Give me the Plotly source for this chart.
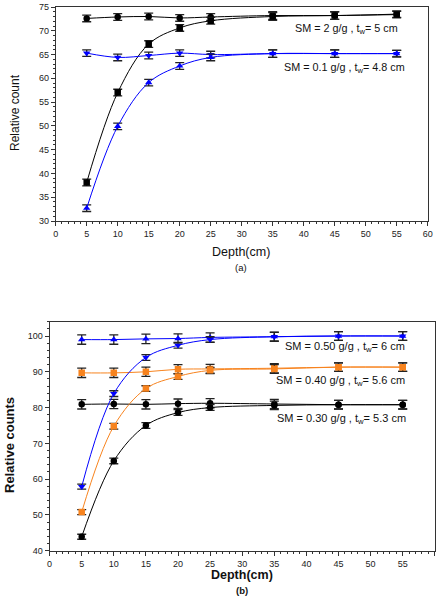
import plotly.graph_objects as go

W, H = 437, 608
depth = [5, 10, 15, 20, 25, 35, 45, 55]

# Panel (a)
a_sm2_flat = [72.6, 72.9, 73.0, 72.7, 72.9, 73.2, 73.2, 73.5]
a_sm2_rise = [38.1, 57.0, 67.2, 70.6, 72.1, 73.0, 73.2, 73.4]
a_sm01_flat = [65.3, 64.4, 64.8, 65.3, 65.0, 65.2, 65.2, 65.2]
a_sm01_rise = [32.7, 49.9, 59.1, 62.6, 64.4, 65.2, 65.2, 65.2]
a_err = [0.7, 0.7, 0.7, 0.7, 0.7, 0.8, 0.8, 0.7]

# Panel (b)
b_sm50_flat = [99.0, 99.0, 99.2, 99.3, 99.6, 99.8, 100.0, 100.0]
b_sm50_rise = [57.9, 83.9, 94.0, 97.4, 99.0, 99.8, 100.0, 100.0]
b_sm40_flat = [89.7, 89.7, 90.0, 90.7, 90.8, 91.0, 91.3, 91.3]
b_sm40_rise = [50.8, 74.8, 85.3, 88.7, 90.4, 90.8, 91.3, 91.3]
b_sm30_flat = [80.9, 81.0, 80.9, 81.1, 81.2, 81.0, 80.8, 80.8]
b_sm30_rise = [43.9, 65.1, 75.0, 78.6, 80.0, 80.6, 80.8, 80.8]
b_err_flat = [1.3, 1.3, 1.3, 1.3, 1.3, 1.3, 1.2, 1.2]
b_err_rise = [0.7, 0.8, 0.8, 0.8, 0.8, 1.2, 1.2, 1.2]

labels_a = ["SM = 2 g/g , t<sub>w</sub>= 5 cm", "SM = 0.1 g/g , t<sub>w</sub>= 4.8 cm"]
labels_b = ["SM = 0.50 g/g , t<sub>w</sub>= 6 cm", "SM = 0.40 g/g , t<sub>w</sub>= 5.6 cm",
            "SM = 0.30 g/g , t<sub>w</sub>= 5.3 cm"]

BLUE = "#0000FF"
ORANGE = "#F7831E"
BLACK = "#000000"
FONT = "Liberation Sans, Arial, sans-serif"

fig = go.Figure()

def add(y, err, color, symbol, xa, ya):
    fig.add_trace(go.Scatter(
        x=depth, y=y, mode="lines+markers", xaxis=xa, yaxis=ya,
        line=dict(color=color, width=1, shape="spline", smoothing=1.0),
        marker=dict(color=color, symbol=symbol, size=6.5),
        error_y=dict(type="data", array=err, visible=True, color="#222222", thickness=1.3, width=4.5),
        showlegend=False))

add(a_sm2_flat, a_err, BLACK, "circle", "x", "y")
add(a_sm2_rise, a_err, BLACK, "square", "x", "y")
add(a_sm01_flat, a_err, BLUE, "triangle-down", "x", "y")
add(a_sm01_rise, a_err, BLUE, "triangle-up", "x", "y")

add(b_sm30_flat, b_err_flat, BLACK, "circle", "x2", "y2")
add(b_sm30_rise, b_err_rise, BLACK, "circle", "x2", "y2")
add(b_sm40_flat, b_err_flat, ORANGE, "square", "x2", "y2")
add(b_sm40_rise, b_err_rise, ORANGE, "square", "x2", "y2")
add(b_sm50_flat, b_err_flat, BLUE, "triangle-up", "x2", "y2")
add(b_sm50_rise, b_err_rise, BLUE, "triangle-down", "x2", "y2")

def px(x): return x / W
def py(y): return 1 - y / H

common = dict(showgrid=False, zeroline=False, showline=True, linecolor="#333", linewidth=1,
              mirror=True, ticks="outside", ticklen=4, tickcolor="#333", automargin=False,
              tickfont=dict(family=FONT, size=9, color="#222"))

fig.update_layout(
    width=W, height=H, margin=dict(l=0, r=0, t=0, b=0),
    paper_bgcolor="white", plot_bgcolor="white",
    font=dict(family=FONT, color="#111"),
    xaxis=dict(domain=[px(55.7), px(427.7)], range=[0, 60], dtick=5, anchor="y",
               minor=dict(dtick=1, ticks="outside", ticklen=2, tickcolor="#333"), **common),
    yaxis=dict(domain=[py(221), py(7)], range=[30, 75], dtick=5, anchor="x",
               minor=dict(dtick=1, ticks="outside", ticklen=2, tickcolor="#333"), **common),
    xaxis2=dict(domain=[px(49.6), px(434.8)], range=[0, 60], dtick=5, anchor="y2",
                minor=dict(dtick=1, ticks="outside", ticklen=2, tickcolor="#333"), **common),
    yaxis2=dict(domain=[py(550.7), py(321.7)], range=[40, 104], tickvals=[40, 50, 60, 70, 80, 90, 100],
                anchor="x2", minor=dict(dtick=2, ticks="outside", ticklen=2, tickcolor="#333"), **common),
)

ann = []
def text(x, y, s, size, bold=False, angle=0, xanchor="center"):
    if bold:
        s = "<b>" + s + "</b>"
    ann.append(dict(x=px(x), y=py(y), xref="paper", yref="paper", text=s, showarrow=False,
                    textangle=angle, xanchor=xanchor, yanchor="middle",
                    font=dict(family=FONT, size=size, color="#111")))

text(15, 113, "Relative count", 12, angle=-90)
text(241, 252, "Depth(cm)", 12.5)
text(241, 267, "(a)", 9.5)
text(400, 29, labels_a[0], 10.8, xanchor="right")
text(407, 68, labels_a[1], 10.8, xanchor="right")

text(9, 445, "Relative counts", 13, bold=True, angle=-90)
text(242, 575, "Depth(cm)", 12.5, bold=True)
text(242, 590, "(b)", 9.5, bold=True)
text(407, 347, labels_b[0], 11, xanchor="right")
text(407, 381, labels_b[1], 11, xanchor="right")
text(408, 419, labels_b[2], 11, xanchor="right")

fig.update_layout(annotations=ann)
fig.write_html("out.html", config={"displayModeBar": False},
               post_script="document.body.style.margin='0';document.body.style.overflow='hidden';")
